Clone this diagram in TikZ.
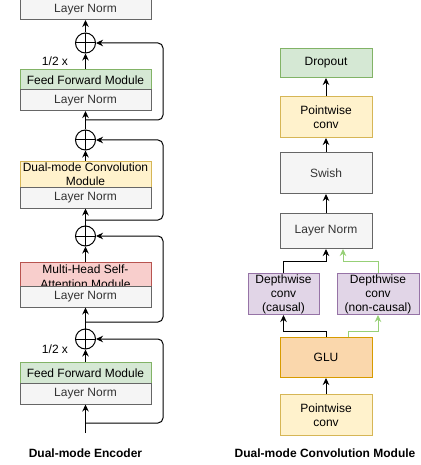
\documentclass[tikz,border=0pt]{standalone}
\usepackage{fontspec}
\setmainfont{Liberation Sans}
\usepackage{xcolor}
\usetikzlibrary{arrows.meta, positioning}

\definecolor{normfill}{HTML}{F5F5F5}
\definecolor{normline}{HTML}{666666}
\definecolor{normtext}{HTML}{333333}
\definecolor{ffnfill}{HTML}{D5E8D4}
\definecolor{ffnline}{HTML}{82B366}
\definecolor{convfill}{HTML}{FFF2CC}
\definecolor{convline}{HTML}{D6B656}
\definecolor{attfill}{HTML}{F8CECC}
\definecolor{attline}{HTML}{B85450}
\definecolor{dwfill}{HTML}{E1D5E7}
\definecolor{dwline}{HTML}{9673A6}
\definecolor{glufill}{HTML}{FAD7AC}
\definecolor{gluline}{HTML}{D79B00}
\definecolor{nclink}{HTML}{97D077}

\begin{document}
\begin{tikzpicture}[x=1pt, y=-1pt, line width=1pt,
		box/.style = {draw, anchor=north, inner sep=0pt, align=center, font=\fontsize{12}{14}\selectfont},
		wide/.style = {box, minimum width=131pt},
		norm/.style = {wide, fill=normfill, draw=normline, text=normtext, minimum height=20.5pt},
		ffn/.style = {wide, fill=ffnfill, draw=ffnline, minimum height=20pt},
		sum/.style = {circle, draw, minimum size=20pt, inner sep=0pt,
			path picture={\draw (path picture bounding box.north) -- (path picture bounding box.south)
				(path picture bounding box.west) -- (path picture bounding box.east);}},
		line/.style = {draw, -{Stealth[length=7pt, width=6.5pt]}},
		res/.style = {line, rounded corners=5pt},
		nc/.style = {line, draw=nclink},
		cbox/.style = {box, minimum width=92pt, minimum height=41pt},
		heading/.style = {font=\fontsize{12}{14}\selectfont\bfseries}]
	\useasboundingbox (0,0) rectangle (420,465);
	% encoder
	\node [norm] at (85.5,-1.5) (ln0) {Layer Norm};
	\node [sum] at (85.5,43) (plus4) {};
	\node [ffn] at (85.5,69.5) (ffn2) {Feed Forward Module};
	\node [norm] at (85.5,89.5) (ln4) {Layer Norm};
	\node [sum] at (85.5,140) (plus3) {};
	\node [wide, fill=convfill, draw=convline, minimum height=26pt] at (85.5,161) (conv) {Dual-mode Convolution\\Module};
	\node [norm] at (85.5,187) (ln3) {Layer Norm};
	\node [sum] at (85.5,236) (plus2) {};
	\node [wide, fill=attfill, draw=attline, minimum height=24pt,
		label={[align=center, font=\fontsize{12}{15}\selectfont, yshift=-2.5pt]center:Multi-Head Self-\\Attention Module}] at (85.5,262) (mhsa) {};
	\node [norm] at (85.5,286) (ln2) {Layer Norm};
	\node [sum] at (85.5,339) (plus1) {};
	\node [ffn, minimum height=21pt] at (85.5,362) (ffn1) {Feed Forward Module};
	\node [norm] at (85.5,383) (ln1) {Layer Norm};
	\node [font=\fontsize{12}{14}\selectfont] at (55,61) (half2) {1/2 x};
	\node [font=\fontsize{12}{14}\selectfont] at (55,349) (half1) {1/2 x};
	\coordinate (in) at (85.5,433);
	\coordinate (rail) at (163,0);
	\coordinate (b1) at (85.5,423);
	\coordinate (b2) at (85.5,322);
	\coordinate (b3) at (85.5,220);
	\coordinate (b4) at (85.5,120);
	\path [line] (in) -- (ln1);
	\path [line] (ffn1) -- (plus1);
	\path [line] (plus1) -- (ln2);
	\path [line] (mhsa) -- (plus2);
	\path [line] (plus2) -- (ln3);
	\path [line] (conv) -- (plus3);
	\path [line] (plus3) -- (ln4);
	\path [line] (ffn2) -- (plus4);
	\path [line] (plus4) -- (ln0);
	\path [res] (b1) -- (b1 -| rail) |- (plus1);
	\path [res] (b2) -- (b2 -| rail) |- (plus2);
	\path [res] (b3) -- (b3 -| rail) |- (plus3);
	\path [res] (b4) -- (b4 -| rail) |- (plus4);
	\node [heading] at (85.5,453) (enc) {Dual-mode Encoder};
	% convolution module
	\node [box, fill=ffnfill, draw=ffnline, minimum width=92pt, minimum height=29pt] at (326,48) (drop) {Dropout};
	\node [cbox, fill=convfill, draw=convline] at (326,96) (pw2) {Pointwise\\conv};
	\node [cbox, fill=normfill, draw=normline, text=normtext] at (326,152) (swish) {Swish};
	\node [cbox, fill=normfill, draw=normline, text=normtext, minimum height=35pt] at (326,213) (lnc) {Layer Norm};
	\node [box, fill=dwfill, draw=dwline, minimum width=71pt, minimum height=41pt] at (283.5,273) (causal) {Depthwise\\conv\\(causal)};
	\node [box, fill=dwfill, draw=dwline, minimum width=82pt, minimum height=41pt] at (378,273) (noncausal) {Depthwise\\conv\\(non-causal)};
	\node [cbox, fill=glufill, draw=gluline, minimum height=40pt] at (326,337) (glu) {GLU};
	\node [cbox, fill=convfill, draw=convline] at (326,394) (pw1) {Pointwise\\conv};
	\path [line] (pw1) -- (glu);
	\path [line] (glu.north) -- ++(0,-6) -| (causal.south);
	\path [nc] ([xshift=22pt]glu.north) -- ++(0,-6) -| (noncausal.south);
	\path [line] (causal.north) -- ++(0,-12) -| (lnc.south);
	\path [nc] (noncausal.north) -- ++(0,-12) -| ([xshift=17pt]lnc.south);
	\path [line] (lnc) -- (swish);
	\path [line] (swish) -- (pw2);
	\path [line] (pw2) -- (drop);
	\node [heading] at (325,453) (convcap) {Dual-mode Convolution Module};
\end{tikzpicture}
\end{document}
